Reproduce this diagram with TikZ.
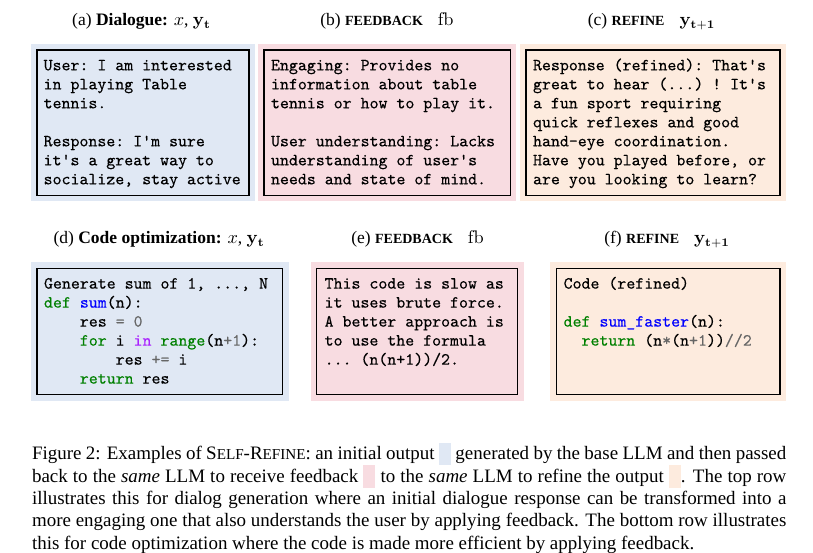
\documentclass[tikz,border=0pt]{standalone}
\usepackage[no-math]{fontspec}
\setmainfont{Liberation Serif}
\setmonofont{lmmono10-regular}[Extension=.otf, FakeBold=0.3]
\usepackage{xcolor}
\definecolor{bgblue}{RGB}{224,232,244}
\definecolor{bgpink}{RGB}{248,220,225}
\definecolor{bgpeach}{RGB}{253,235,222}
\definecolor{pyg}{RGB}{0,128,0}
\definecolor{pyb}{RGB}{0,0,255}
\definecolor{pyp}{RGB}{170,34,255}
\definecolor{pyo}{RGB}{102,102,102}
\newcommand\fsc[1]{{\fontsize{9.1pt}{10pt}\selectfont #1}}
\newcommand\tsc[1]{{\fontsize{8.4pt}{10pt}\selectfont #1}}
\newcommand\swatch[1]{\smash{\textcolor{#1}{\rule[-3.4pt]{7.2pt}{13.6pt}}}}
\newcommand\kw[1]{\textcolor{pyg}{#1}}
\newcommand\fn[1]{\textcolor{pyb}{#1}}
\newcommand\ow[1]{\textcolor{pyp}{#1}}
\newcommand\op[1]{\textcolor{pyo}{#1}}
\newcommand\capfont{\fontsize{11.38pt}{13.44pt}\selectfont}
\newcommand\ttlfont{\fontsize{10.5pt}{12pt}\selectfont}
\newcommand\codefont{\ttfamily\fontsize{10.24pt}{11.4pt}\selectfont}
\tikzset{
  frame/.style={draw=black, line width=0.75pt},
  codetxt/.style={anchor=north west, inner sep=0pt, align=left, font=\codefont},
  ttl/.style={anchor=base, inner sep=0pt, font=\ttlfont},
}
\begin{document}
\begin{tikzpicture}[x=0.6pt,y=-0.6pt]
\useasboundingbox (0,0) rectangle (813,553);
% backgrounds top
\fill[bgblue]  (31,44) rectangle (255,201.5);
\fill[bgpink]  (258,44) rectangle (516,201.5);
\fill[bgpeach] (520,44) rectangle (786,201.5);
\draw[frame] (37,50) rectangle (249,195.5);
\draw[frame] (264,50) rectangle (510.5,195.5);
\draw[frame] (526,50) rectangle (780,195.5);
% backgrounds bottom
\fill[bgblue]  (31,261.7) rectangle (288.7,400.7);
\fill[bgpink]  (311,261.7) rectangle (524,400.7);
\fill[bgpeach] (550,261.7) rectangle (785.7,400.7);
\draw[frame] (37,268.3) rectangle (282.7,394.3);
\draw[frame] (316.7,268.3) rectangle (517.7,394.3);
\draw[frame] (556.7,268.3) rectangle (780,394.3);
% titles
\node[ttl] (ta) at (141.5,26) {(a) \textbf{Dialogue:} $x$, $\mathbf{y_t}$};
\node[ttl] (tb) at (387,26) {(b) {\bfseries\tsc{FEEDBACK}}\hspace{9pt}$\mathrm{fb}$};
\node[ttl] (tc) at (651.5,26) {(c) {\bfseries\tsc{REFINE}}\hspace{9pt}$\mathbf{y_{t+1}}$};
\node[ttl] (td) at (159,243.3) {(d) \textbf{Code optimization:} $x$, $\mathbf{y_t}$};
\node[ttl] (te) at (417.5,243.3) {(e) {\bfseries\tsc{FEEDBACK}}\hspace{9pt}$\mathrm{fb}$};
\node[ttl] (tf) at (667,243.3) {(f) {\bfseries\tsc{REFINE}}\hspace{9pt}$\mathbf{y_{t+1}}$};
% top texts
\node[codetxt] (xa) at (43.3,56.7) {\strut User: I am interested\\in playing Table\\tennis.\\[11.4pt]Response: I'm sure\\it's a great way to\\socialize, stay active};
\node[codetxt] (xb) at (270.7,56.7) {\strut Engaging: Provides no\\information about table\\tennis or how to play it.\\[11.4pt]User understanding: Lacks\\understanding of user's\\needs and state of mind.};
\node[codetxt] (xc) at (532.7,56.7) {\strut Response (refined): That's\\great to hear (...) ! It's\\a fun sport requiring\\quick reflexes and good\\hand-eye coordination.\\Have you played before, or\\are you looking to learn?};
% bottom texts
\node[codetxt] (xd) at (43.7,275) {\strut Generate sum of 1, ..., N\\\kw{def} \fn{sum}(n):\\\phantom{xxxx}res \op{=} \op{0}\\\phantom{xxxx}\kw{for} i \ow{in} \kw{range}(n\op{+}\op{1}):\\\phantom{xxxxxxxx}res \op{+=} i\\\phantom{xxxx}\kw{return} res};
\node[codetxt] (xe) at (324.3,275) {\strut This code is slow as\\it uses brute force.\\A better approach is\\to use the formula\\... (n(n+1))/2.};
\node[codetxt] (xf) at (563.3,275) {\strut Code (refined)\\[11.4pt]\kw{def} \fn{sum\_faster}(n):\\\phantom{xx}\kw{return} (n\op{*}(n\op{+}\op{1}))\op{//}\op{2}};
% caption
\node[anchor=north west, inner sep=0pt, text width=452.6pt, align=justify, font=\capfont] (cap) at (31.7,443.6)
{\lineskiplimit=-20pt\strut Figure 2: Examples of S\fsc{ELF}-R\fsc{EFINE}: an initial output \swatch{bgblue} generated by the base LLM and then passed\linebreak back to the \emph{same} LLM to receive feedback \swatch{bgpink} to the \emph{same} LLM to refine the output \swatch{bgpeach}. The top row\linebreak illustrates this for dialog generation where an initial dialogue response can be transformed into a\linebreak more engaging one that also understands the user by applying feedback. The bottom row illustrates\linebreak this for code optimization where the code is made more efficient by applying feedback.};
\end{tikzpicture}
\end{document}
